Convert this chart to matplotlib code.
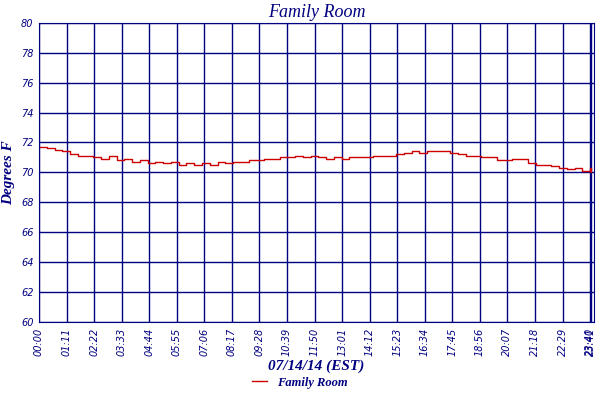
import numpy as np
import matplotlib.pyplot as plt

# minutes since midnight, every 20 min
minutes = list(range(0, 1421, 20)) + [1421]
temps = [71.7, 71.6, 71.5, 71.4, 71.2, 71.1, 71.1, 71.0, 70.9, 71.1, 70.8, 70.9,
         70.7, 70.8, 70.6, 70.7, 70.6, 70.7, 70.5, 70.6, 70.5, 70.6, 70.5, 70.7,
         70.6, 70.7, 70.7, 70.8, 70.8, 70.9, 70.9, 71.0, 71.0, 71.1, 71.0, 71.1,
         71.0, 70.9, 71.0, 70.9, 71.0, 71.0, 71.0, 71.1, 71.1, 71.1, 71.2, 71.3,
         71.4, 71.3, 71.4, 71.4, 71.4, 71.3, 71.2, 71.1, 71.1, 71.0, 71.0, 70.8,
         70.8, 70.9, 70.9, 70.6, 70.5, 70.5, 70.4, 70.3, 70.2, 70.3, 70.1, 70.3,
         70.0]
tick_pos = list(range(0, 1421, 71)) + [1421]
tick_labels = ["%02d:%02d" % (m // 60, m % 60) for m in tick_pos]

navy = "#000080"
fig = plt.figure(figsize=(6, 4), dpi=100)
ax = fig.add_axes([0.065, 0.195, 0.925, 0.748])
ax.plot(minutes, temps, color="#cc0000", lw=1.0, drawstyle="steps-post", label="Family Room")
ax.set_xlim(0, 1430)
ax.set_ylim(60, 80)
ax.set_yticks(range(60, 81, 2))
ax.set_xticks(tick_pos)
ax.set_xticklabels(tick_labels, rotation=90, fontsize=7, style="italic", color=navy)
for t in ax.get_yticklabels():
    t.set_fontsize(7); t.set_style("italic"); t.set_color(navy)
ax.grid(True, color=navy, lw=1)
ax.tick_params(length=0, pad=4)
for s in ax.spines.values():
    s.set_color(navy)
ax.set_title("Family Room", family="Liberation Serif", style="italic", fontsize=13, color=navy, pad=4)
ax.set_ylabel("Degrees F", family="Liberation Serif", style="italic", weight="bold", fontsize=11, color=navy, labelpad=4)
ax.set_xlabel("07/14/14 (EST)", family="Liberation Serif", style="italic", weight="bold", fontsize=11, color=navy, labelpad=3)
leg = fig.legend(loc="lower center", bbox_to_anchor=(0.5, 0.0), frameon=False, handlelength=1.2,
                 prop={"family": "Liberation Serif", "style": "italic", "weight": "bold", "size": 9})
for t in leg.get_texts():
    t.set_color(navy)
fig.savefig("out.png", dpi=100)
